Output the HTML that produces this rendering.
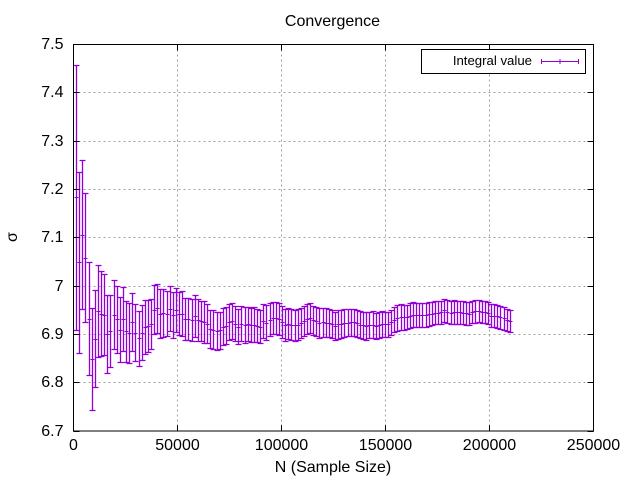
<!DOCTYPE html>
<html>
<head>
<meta charset="utf-8">
<title>Convergence</title>
<style>
html,body{margin:0;padding:0;background:#fff;}
svg{display:block;}
text{font-family:"Liberation Sans",sans-serif;fill:#000;}
</style>
</head>
<body>
<svg id="chart" width="640" height="480" viewBox="0 0 640 480" xmlns="http://www.w3.org/2000/svg">
<rect x="0" y="0" width="640" height="480" fill="#fff"/>
<g id="grid" shape-rendering="crispEdges"></g>
<g id="series"></g>
<g id="ticks" shape-rendering="crispEdges"></g>
<rect x="73.5" y="44.5" width="520" height="386.5" fill="none" stroke="#000" stroke-width="1" shape-rendering="crispEdges"/>
<g id="tick-labels" font-size="16"></g>
<text x="332.5" y="26" font-size="16" text-anchor="middle">Convergence</text>
<text x="333" y="472" font-size="16" text-anchor="middle">N (Sample Size)</text>
<text transform="translate(17,237) rotate(-90)" font-size="16" text-anchor="middle">σ</text>
<g>
<rect x="421.5" y="49.5" width="164" height="24" fill="#fff" stroke="#000" stroke-width="1" shape-rendering="crispEdges"/>
<text x="532" y="65" font-size="13.2" text-anchor="end">Integral value</text>
<g stroke="#9400d3" stroke-width="1" fill="none" shape-rendering="crispEdges">
<path d="M541.5 61.5H578.5M541.5 59V64M560 59V64M578.5 59V64"/>
</g>
</g>
</svg>
<script>
var svgNS = "http://www.w3.org/2000/svg";
var sampleStep = 1500;
var means = [
7.183,7.048,7.105,7.058,6.931,6.848,6.890,6.948,6.942,6.940,
6.900,6.906,6.940,6.930,6.909,6.930,6.905,6.901,6.925,6.902,
6.891,6.902,6.915,6.917,6.920,6.950,6.953,6.942,6.943,6.942,
6.952,6.939,6.949,6.942,6.942,6.930,6.930,6.928,6.937,6.928,
6.926,6.924,6.921,6.911,6.909,6.906,6.907,6.915,6.917,6.924,
6.926,6.921,6.915,6.921,6.919,6.921,6.919,6.919,6.917,6.915,
6.926,6.923,6.929,6.932,6.932,6.931,6.925,6.919,6.921,6.919,
6.918,6.919,6.923,6.927,6.931,6.932,6.928,6.926,6.923,6.924,
6.923,6.922,6.921,6.917,6.920,6.921,6.922,6.923,6.924,6.924,
6.922,6.919,6.918,6.917,6.919,6.919,6.917,6.918,6.920,6.920,
6.920,6.924,6.929,6.933,6.935,6.934,6.935,6.938,6.940,6.940,
6.940,6.940,6.940,6.941,6.942,6.944,6.944,6.945,6.949,6.946,
6.944,6.945,6.945,6.945,6.944,6.943,6.942,6.945,6.947,6.948,
6.946,6.945,6.944,6.938,6.938,6.936,6.934,6.932,6.929,6.926
];
var errors = [
.274,.187,.154,.134,.117,.105,.100,.095,.088,.084,
.080,.075,.072,.070,.068,.066,.064,.062,.060,.059,
.057,.057,.056,.054,.052,.051,.051,.050,.049,.047,
.047,.047,.045,.045,.046,.0436,.0436,.0436,.0425,.0436,
.0415,.0436,.0405,.0394,.0394,.0384,.039,.038,.038,.037,
.037,.0363,.0363,.0363,.037,.035,.0353,.0363,.034,.034,
.035,.036,.034,.033,.033,.0325,.033,.033,.032,.0315,
.032,.0315,.0311,.031,.031,.031,.0304,.0304,.0308,.0304,
.0301,.029,.0294,.029,.0297,.0294,.029,.028,.0284,.0284,
.0277,.0277,.028,.0287,.027,.0277,.027,.0273,.0266,.0259,
.0259,.0256,.026,.0263,.0263,.026,.0249,.0259,.0253,.0249,
.0249,.0249,.0249,.0246,.0242,.0242,.0242,.0239,.0242,.0239,
.0242,.0242,.0239,.0239,.0235,.0239,.0239,.0232,.0235,.0228,
.0228,.0228,.0228,.0232,.0232,.0235,.0235,.0235,.0232,.0228
];
var xTickValues = [0,50000,100000,150000,200000,250000];
var yTickValues = [6.7,6.8,6.9,7,7.1,7.2,7.3,7.4,7.5];
var yTickLabels = ["6.7","6.8","6.9","7","7.1","7.2","7.3","7.4","7.5"];

var plotLeft = 73.5, plotRight = 593.5, plotTop = 44.5, plotBottom = 431;
var xMin = 0, xMax = 250000, yMin = 6.7, yMax = 7.5;
function xScale(v){ return plotLeft + (v - xMin) / (xMax - xMin) * (plotRight - plotLeft); }
function yScale(v){ return plotBottom - (v - yMin) / (yMax - yMin) * (plotBottom - plotTop); }
function snap(p){ return Math.floor(p) + 0.5; }
function make(tag, attrs){
  var el = document.createElementNS(svgNS, tag);
  for (var k in attrs) el.setAttribute(k, attrs[k]);
  return el;
}
var gridG = document.getElementById("grid");
var ticksG = document.getElementById("ticks");
var labelsG = document.getElementById("tick-labels");
var seriesG = document.getElementById("series");

xTickValues.forEach(function(v){
  var x = snap(xScale(v));
  if (v > xMin && v < xMax) {
    var g = make("line", {x1:x, x2:x, y1:plotTop, y2:plotBottom, stroke:"#a0a0a0", "stroke-width":1, "stroke-dasharray":"2 3"});
    
    
    gridG.appendChild(g);
  }
  var t = make("path", {d:"M"+x+" "+plotBottom+"v-6M"+x+" "+plotTop+"v6", stroke:"#000", "stroke-width":1, fill:"none"});
  
  
  ticksG.appendChild(t);
  var l = make("text", {x:x, y:450, "text-anchor":"middle"});
  
  
  l.textContent = String(v);
  labelsG.appendChild(l);
});
yTickValues.forEach(function(v, i){
  var y = snap(yScale(v));
  if (v > yMin && v < yMax) {
    var g = make("line", {x1:plotLeft, x2:plotRight, y1:y, y2:y, stroke:"#a0a0a0", "stroke-width":1, "stroke-dasharray":"2 3"});
    
    
    gridG.appendChild(g);
  }
  var t = make("path", {d:"M"+plotLeft+" "+y+"h6M"+plotRight+" "+y+"h-6", stroke:"#000", "stroke-width":1, fill:"none"});
  
  
  ticksG.appendChild(t);
  var l = make("text", {x:63.5, y:y + 4.5, "text-anchor":"end"});
  
  
  l.textContent = yTickLabels[i];
  labelsG.appendChild(l);
});

means.forEach(function(m, i){
  var n = (i + 1) * sampleStep;
  var x = snap(xScale(n));
  var yT = snap(yScale(m + errors[i]));
  var yB = snap(yScale(m - errors[i]));
  var yM = snap(yScale(m));
  var bar = make("path", {
    d:"M"+x+" "+yT+"V"+yB+
      "M"+(x-3)+" "+yT+"h6"+
      "M"+(x-3)+" "+yB+"h6",
    stroke:"#9400d3", "stroke-width":1.3, fill:"none"
  });
  
  
  seriesG.appendChild(bar);
  var mark = make("path", {
    d:"M"+(x-2)+" "+yM+"h4",
    stroke:"#9400d3", "stroke-width":1, fill:"none"
  });
  
  
  seriesG.appendChild(mark);
});
</script>
</body>
</html>
